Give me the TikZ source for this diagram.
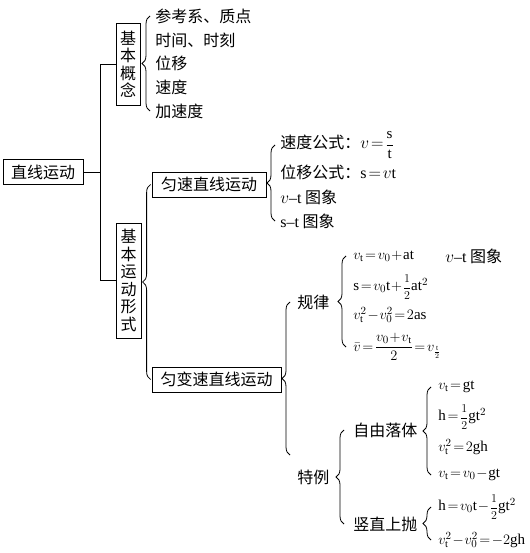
\documentclass[tikz,border=0pt]{standalone}
\usepackage{fontspec}
\setmainfont{Liberation Serif}
\newfontfamily\cjk{Noto Sans CJK SC}
\usetikzlibrary{decorations.pathreplacing}
\newcommand{\hf}[3][13]{\mbox{\fontsize{#1}{#1}\selectfont$\displaystyle\frac{#2}{#3}$}}
\medmuskip=1mu
\thickmuskip=2mu

\begin{document}
\begin{tikzpicture}[x=1pt, y=-1pt, line width=0.8pt,
    font=\cjk\fontsize{16}{17.5}\selectfont,
    box/.style={draw, inner sep=0pt, minimum height=25pt},
    vbox/.style={draw, inner sep=0pt, align=center},
    item/.style={anchor=west, inner sep=0pt},
    formula/.style={item, font=\fontsize{15}{17}\selectfont},
    cbrace/.style={decorate, decoration={brace, amplitude=8pt}}]
  \useasboundingbox (0,0) rectangle (529,553);

  \node[box, minimum width=80pt] (root) at (43,172) {直线运动};
  \node[vbox, minimum width=24pt, minimum height=82pt] (concept) at (128,64) {基\\本\\概\\念};
  \node[vbox, minimum width=25pt, minimum height=115pt] (forms) at (128.5,280.5) {基\\本\\运\\动\\形\\式};
  \coordinate (fork) at (100,172);
  \draw (root.east) -- (fork);
  \draw (fork) |- (concept.west);
  \draw (fork) |- (forms.west);

  \node[item] (c1) at (155,16) {参考系、质点};
  \node[item] (c2) at (155,40) {时间、时刻};
  \node[item] (c3) at (155,63) {位移};
  \node[item] (c4) at (155,87) {速度};
  \node[item] (c5) at (155,111) {加速度};
  \draw[cbrace] ([xshift=-5pt]c5.west) -- ([xshift=-5pt]c1.west);

  \node[box, minimum width=114pt] (uniform) at (209,184.5) {匀速直线运动};
  \node[box, minimum width=129pt] (varied) at (216.5,379.5) {匀变速直线运动};
  \draw[cbrace] ([xshift=-1pt]varied.west) -- ([xshift=-1pt]uniform.west);

  \node[item] (u1) at (280,145) {速度公式：$v=\hf[15]{\mathrm{s}}{\mathrm{t}}$};
  \node[item] (u2) at (280,172) {位移公式：$\mathrm{s}=v\mathrm{t}$};
  \node[item] (u3) at (280,197) {$v${\rmfamily –}$\mathrm{t}$ 图象};
  \node[item] (u4) at (280,221) {$\mathrm{s}${\rmfamily –}$\mathrm{t}$ 图象};
  \draw[cbrace] ([xshift=-5pt]u4.west) -- ([xshift=-5pt]u1.west);

  \node[item] (law) at (297,302) {规律};
  \node[item] (special) at (297,477) {特例};
  \draw[cbrace] ([xshift=-7pt,yshift=22pt]special.west) -- ([xshift=-7pt]law.west);

  \node[formula] (r1) at (353,256) {$v_{\mathrm{t}}=v_0+\mathrm{at}$};
  \node[item] (vt) at (445,256) {$v${\rmfamily –}$\mathrm{t}$ 图象};
  \node[formula] (r2) at (353,287) {$\mathrm{s}=v_0\mathrm{t}+\hf{1}{2}\mathrm{at}^2$};
  \node[formula] (r3) at (353,315) {$v_{\mathrm{t}}^2-v_0^2=2\mathrm{as}$};
  \node[formula] (r4) at (353,347) {$\bar{v}=\hf[15]{v_0+v_{\mathrm{t}}}{2}=v_{\frac{\mathrm{t}}{2}}$};
  \draw[cbrace] ([xshift=-7pt]r4.west) -- ([xshift=-7pt]r1.west);

  \node[item] (fall) at (353,430) {自由落体};
  \node[item] (throw) at (353,524) {竖直上抛};
  \draw[cbrace] ([xshift=-9pt]throw.west) -- ([xshift=-9pt]fall.west);

  \node[formula] (f1) at (438,387) {$v_{\mathrm{t}}=\mathrm{gt}$};
  \node[formula] (f2) at (438,417) {$\mathrm{h}=\hf{1}{2}\mathrm{gt}^2$};
  \node[formula] (f3) at (438,447) {$v_{\mathrm{t}}^2=2\mathrm{gh}$};
  \node[formula] (f4) at (438,475) {$v_{\mathrm{t}}=v_0-\mathrm{gt}$};
  \draw[cbrace] ([xshift=-7pt]f4.west) -- ([xshift=-7pt]f1.west);

  \node[formula] (s1) at (438,507) {$\mathrm{h}=v_0\mathrm{t}-\hf{1}{2}\mathrm{gt}^2$};
  \node[formula] (s2) at (438,540) {$v_{\mathrm{t}}^2-v_0^2=-2\mathrm{gh}$};
  \draw[cbrace] ([xshift=-7pt]s2.west) -- ([xshift=-7pt]s1.west);
\end{tikzpicture}
\end{document}
